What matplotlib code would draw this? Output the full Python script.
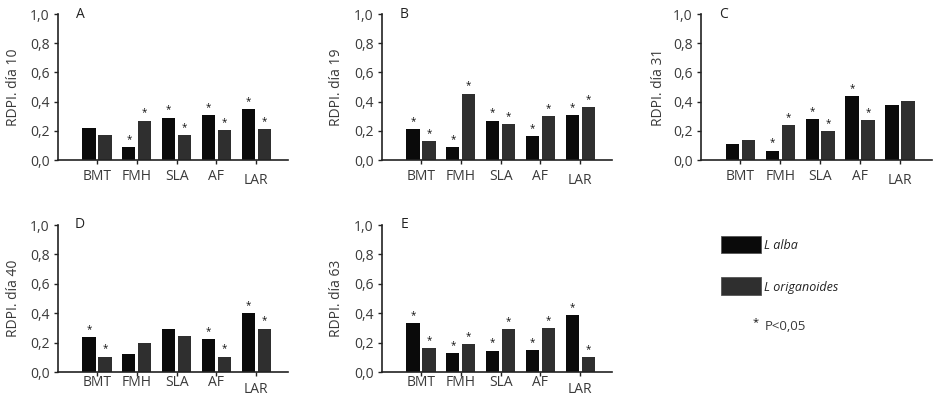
import numpy as np
import matplotlib
matplotlib.use("Agg")
import matplotlib.pyplot as plt
from matplotlib.patches import Rectangle
from matplotlib.transforms import ScaledTranslation

plt.rcParams["font.family"] = ["Open Sans", "DejaVu Sans"]

# ==================================================
# Daten
# ==================================================
categories = ["BMT", "FMH", "SLA", "AF", "LAR"]
panel_letters = ["A", "B", "C", "D", "E"]
days = [10, 19, 31, 40, 63]

alba_A = [0.22, 0.09, 0.29, 0.31, 0.35]
orig_A = [0.17, 0.27, 0.17, 0.205, 0.21]
star_alba_A = [0, 1, 1, 1, 1]
star_orig_A = [0, 1, 1, 1, 1]

alba_B = [0.21, 0.09, 0.27, 0.165, 0.31]
orig_B = [0.13, 0.455, 0.245, 0.30, 0.365]
star_alba_B = [1, 1, 1, 1, 1]
star_orig_B = [1, 1, 1, 1, 1]

alba_C = [0.11, 0.065, 0.28, 0.44, 0.375]
orig_C = [0.135, 0.24, 0.20, 0.275, 0.405]
star_alba_C = [0, 1, 1, 1, 0]
star_orig_C = [0, 1, 1, 1, 0]

alba_D = [0.235, 0.125, 0.29, 0.225, 0.40]
orig_D = [0.105, 0.20, 0.245, 0.105, 0.295]
star_alba_D = [1, 0, 0, 1, 1]
star_orig_D = [1, 0, 0, 1, 1]

alba_E = [0.335, 0.13, 0.145, 0.15, 0.385]
orig_E = [0.165, 0.19, 0.29, 0.30, 0.10]
star_alba_E = [1, 1, 1, 1, 1]
star_orig_E = [1, 1, 1, 1, 1]

alba_all = [alba_A, alba_B, alba_C, alba_D, alba_E]
orig_all = [orig_A, orig_B, orig_C, orig_D, orig_E]
star_alba_all = [star_alba_A, star_alba_B, star_alba_C, star_alba_D, star_alba_E]
star_orig_all = [star_orig_A, star_orig_B, star_orig_C, star_orig_D, star_orig_E]

# ==================================================
# Layout (Pixel -> Figure-Anteile)
# ==================================================
W, H = 939, 400
# (links, rechts, oben, unten) in Pixel
boxes = [(58, 288, 14, 160), (382, 612, 14, 160), (701, 932, 14, 160),
         (58, 288, 225, 372), (382, 612, 225, 372)]
ylabel_x = [14, 337, 658, 14, 337]
xlabel_pad = [3.5, 3.5, 3.5, -0.5, -0.5]
lar_shift = [4, 4, 4, 7, 7]

BLACK = "#0a0a0a"
GRAY = "#2f2f2f"
TXT = "#3a3a3a"

fig = plt.figure(figsize=(W / 100, H / 100), dpi=100)

x = np.arange(len(categories))
bw = 0.33
for i in range(5):
    l, r, t, b = boxes[i]
    ax = fig.add_axes([l / W, 1 - b / H, (r - l) / W, (b - t) / H])
    ax.bar(x - 0.2, alba_all[i], width=bw, color=BLACK)
    ax.bar(x + 0.2, orig_all[i], width=bw, color=GRAY)
    for j in range(len(categories)):
        if star_alba_all[i][j]:
            ax.annotate("*", (x[j] - 0.2, alba_all[i][j]), xytext=(0, 1.5), textcoords="offset points",
                        ha="center", va="bottom", fontsize=7, color="#111111")
        if star_orig_all[i][j]:
            ax.annotate("*", (x[j] + 0.2, orig_all[i][j]), xytext=(0, 1.5), textcoords="offset points",
                        ha="center", va="bottom", fontsize=7, color="#111111")

    ax.set_xlim(-0.98, 4.8)
    ax.set_ylim(0, 1.0)
    ax.set_yticks(np.arange(0, 1.01, 0.2))
    ax.set_yticklabels([f"{v:.1f}".replace(".", ",") for v in np.arange(0, 1.01, 0.2)])
    ax.set_xticks(x)
    ax.set_xticklabels(categories)
    for s in ["top", "right"]:
        ax.spines[s].set_visible(False)
    for s in ["left", "bottom"]:
        ax.spines[s].set_color("#222222")
        ax.spines[s].set_linewidth(1.2)
    ax.tick_params(axis="y", direction="out", length=3, width=1, color="#222222",
                   labelsize=10, labelcolor=TXT, pad=3)
    ax.tick_params(axis="x", direction="out", length=3, width=1, color="#222222",
                   labelsize=10, labelcolor=TXT, pad=xlabel_pad[i])
    # LAR etwas tiefer wie im Original
    lab = ax.get_xticklabels()[-1]
    lab.set_transform(lab.get_transform() + ScaledTranslation(0, -lar_shift[i] / 100, fig.dpi_scale_trans))

    fig.text(ylabel_x[i] / W, 1 - ((t + b) / 2) / H, f"RDPI. día {days[i]}", rotation=90,
             ha="center", va="center", fontsize=10, color=TXT)
    fig.text((l + 22) / W, 1 - t / H, panel_letters[i], ha="center", va="center",
             fontsize=10, color="#222222")

# ==================================================
# Legende
# ==================================================
fig.patches.append(Rectangle((721 / W, 1 - 253 / H), 40 / W, 17 / H, transform=fig.transFigure,
                             facecolor=BLACK, edgecolor="#555555", linewidth=0.6))
fig.patches.append(Rectangle((721 / W, 1 - 295 / H), 40 / W, 18 / H, transform=fig.transFigure,
                             facecolor=GRAY, edgecolor="#555555", linewidth=0.6))
fig.text(764 / W, 1 - 245 / H, "L alba", style="italic", fontsize=9, color="#222222", va="center")
fig.text(764 / W, 1 - 287 / H, "L origanoides", style="italic", fontsize=9, color="#222222", va="center")
fig.text(756 / W, 1 - 323 / H, "*", fontsize=8, color="#111111", va="center", ha="center")
fig.text(765 / W, 1 - 326 / H, "P<0,05", fontsize=9.5, color=TXT, va="center")

fig.savefig("out.png", dpi=100)
